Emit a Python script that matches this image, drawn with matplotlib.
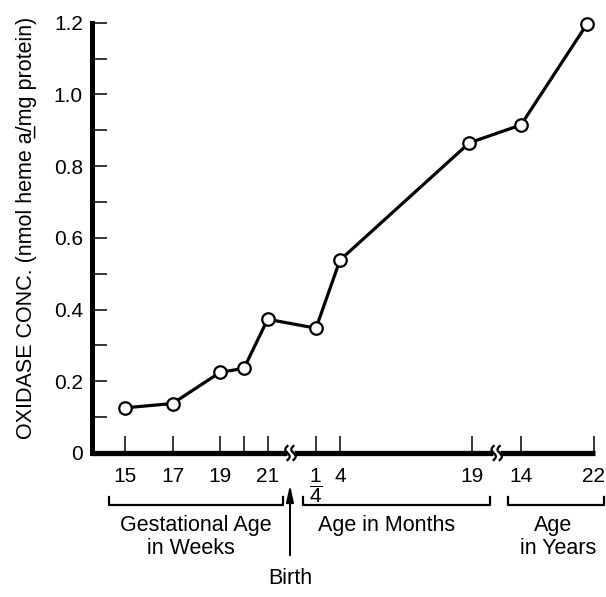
import numpy as np
import matplotlib
matplotlib.use("Agg")
import matplotlib.pyplot as plt
from matplotlib.ticker import MultipleLocator, FixedLocator

# ---------------- data ----------------
weeks = [15, 17, 19, 20, 21]
weeks_conc = [0.126, 0.138, 0.225, 0.236, 0.373]
months = [0.25, 4, 18.7]
months_conc = [0.348, 0.538, 0.865]
years = [13.5, 21.2]
years_conc = [0.915, 1.195]

week_ticks = [15, 17, 19, 20, 21]
week_labels = ["15", "17", "19", "", "21"]
month_ticks = [0.25, 4, 19]
month_labels = [r"$\dfrac{1}{4}$", "4", "19"]
year_ticks = [14, 22]
year_labels = ["14", "22"]

y_ticks = [0, 0.2, 0.4, 0.6, 0.8, 1.0, 1.2]
y_labels = ["0", "0.2", "0.4", "0.6", "0.8", "1.0", "1.2"]

# ---------------- layout (broken axis: segment scales in pixel units) ----------------
W, H = 606, 597
X0, X1 = 92.5, 594.0          # axes extent (px)
Y0, Y1 = 453.0, 22.7          # y=0 and y=1.2 (px from top)
week_scale = ([15, 21], [125.0, 267.7])
month_scale = ([0.25, 4, 19], [316.0, 340.0, 472.0])
year_scale = ([14, 22], [521.0, 594.0])
breaks = [290.5, 496.7]


def seg_lin(vals, scale):
    a, p = np.asarray(scale[0], float), np.asarray(scale[1], float)
    return np.interp(np.asarray(vals, float), a, p)


FONT = ["Liberation Sans", "DejaVu Sans"]
plt.rcParams["font.family"] = FONT
plt.rcParams["mathtext.fontset"] = "custom"
plt.rcParams["mathtext.rm"] = "Liberation Sans"
plt.rcParams["mathtext.it"] = "Liberation Sans"

fig = plt.figure(figsize=(W / 100, H / 100), dpi=100)
ax = fig.add_axes([X0 / W, 1 - Y0 / H, (X1 - X0) / W, (Y0 - Y1) / H])
ax.set_xlim(X0, X1)
ax.set_ylim(0, 1.2)

xs = np.concatenate([seg_lin(weeks, week_scale), seg_lin(months, month_scale),
                     seg_lin(years, year_scale)])
ys = np.concatenate([weeks_conc, months_conc, years_conc])
ax.plot(xs, ys, color="black", lw=2.3, zorder=3, clip_on=False)
ax.plot(xs, ys, linestyle="none", marker="o", ms=9, mfc="white", mec="black",
        mew=1.6, zorder=4, clip_on=False)

# spines
for s in ["top", "right", "bottom"]:
    ax.spines[s].set_visible(False)
ax.spines["left"].set_linewidth(3.6)
ax.spines["left"].set_bounds(0, 1.2)

# y ticks
ax.yaxis.set_major_locator(FixedLocator(y_ticks))
ax.set_yticklabels(y_labels)
ax.yaxis.set_minor_locator(MultipleLocator(0.1))
ax.tick_params(axis="y", which="both", direction="in", length=11, width=1.1,
               labelsize=15, pad=7)

# x ticks
xt = np.concatenate([seg_lin(week_ticks, week_scale), seg_lin(month_ticks, month_scale),
                     seg_lin(year_ticks, year_scale)])
xl = week_labels + month_labels + year_labels
ax.set_xticks(xt)
ax.set_xticklabels(xl)
ax.tick_params(axis="x", which="both", direction="in", length=12, width=1.1,
               labelsize=15, pad=10)

# ---------------- overlay in pixel coordinates ----------------
ov = fig.add_axes([0, 0, 1, 1])
ov.set_xlim(0, W)
ov.set_ylim(H, 0)
ov.axis("off")
ov.patch.set_visible(False)

# broken x axis line
axis_y = Y0
pieces = [(X0 - 1.8, breaks[0] - 3.5), (breaks[0] + 3.5, breaks[1] - 3.5), (breaks[1] + 3.5, X1 + 0.6)]
for a, b in pieces:
    ov.plot([a, b], [axis_y, axis_y], color="black", lw=3.8, solid_capstyle="butt")
t = np.linspace(-1, 1, 30)
for bx in breaks:
    for dx in (-3.0, 3.0):
        ov.plot(bx + dx + 2.2 * np.sin(np.pi * t), axis_y + 7 * t, color="black", lw=1.6)


# brackets
def bracket(xa, xb, y, h=8):
    ov.plot([xa, xa, xb, xb], [y - h, y, y, y - h], color="black", lw=1.6)


bracket(109, 283, 505)
bracket(303, 490, 505)
bracket(508, 604, 505)

txt = dict(ha="center", va="center", fontsize=15.5, color="black")
ov.text(196, 526, "Gestational Age", **txt)
ov.text(191, 548, "in Weeks", **txt)
ov.text(387, 526, "Age in Months", **txt)
ov.text(553, 525, "Age", **txt)
ov.text(558, 548, "in Years", **txt)

# birth arrow
ov.annotate("", xy=(290, 482), xytext=(290, 558),
            arrowprops=dict(arrowstyle="-|>,head_length=1.0,head_width=0.22",
                            color="black", lw=1.4))
ov.text(290, 578, "Birth", **txt)

# y label
ov.text(27, 228, "OXIDASE CONC. (nmol heme a\u0332/mg protein)", rotation=90,
        ha="center", va="center", fontsize=15.5, color="black")

fig.savefig("out.png", dpi=100)
